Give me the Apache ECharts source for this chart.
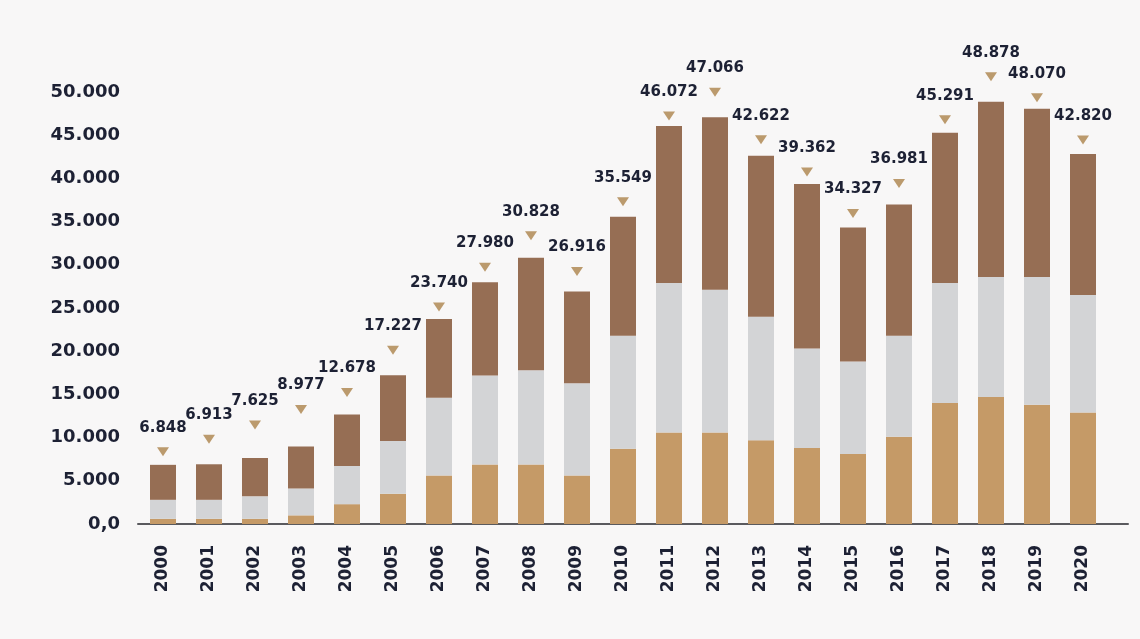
<!DOCTYPE html>
<html>
<head>
<meta charset="utf-8">
<style>
  html, body { margin: 0; padding: 0; background: #f8f7f7; }
  #chart { width: 1140px; height: 639px; }
</style>
<script src="https://cdn.jsdelivr.net/npm/echarts@6/dist/echarts.min.js"></script>
</head>
<body>
<div id="chart"></div>
<script>
// Years on the category axis
const years = ['2000','2001','2002','2003','2004','2005','2006','2007','2008','2009','2010',
               '2011','2012','2013','2014','2015','2016','2017','2018','2019','2020'];

// Stack segments, bottom to top
const baseSegment = [600, 600, 600, 1000, 2300, 3500, 5600, 6900, 6900, 5600, 8700,
                     10600, 10600, 9700, 8800, 8100, 10100, 14000, 14700, 13800, 12900];
const midSegment  = [2200, 2200, 2600, 3100, 4400, 6100, 9000, 10300, 10900, 10700, 13100,
                     17300, 16500, 14300, 11500, 10700, 11700, 13900, 13900, 14800, 13600];
const topSegment  = [4048, 4113, 4425, 4877, 5978, 7627, 9140, 10780, 13028, 10616, 13749,
                     18172, 19966, 18622, 19062, 15527, 15181, 17391, 20278, 19470, 16320];

// Yearly totals written above each bar
const totals = [6848, 6913, 7625, 8977, 12678, 17227, 23740, 27980, 30828, 26916, 35549,
                46072, 47066, 42622, 39362, 34327, 36981, 45291, 48878, 48070, 42820];

// Pixel lift of each marker above its bar
const markerLift = [13, 25, 33, 37, 22, 25, 12, 15, 22, 20, 15, 10, 25, 16, 12, 14, 21, 13, 25, 11, 14];

const fmt = v => v === 0 ? '0,0' : (v / 1000).toFixed(3);
const FONT = 'DejaVu Sans';
const TEXT = '#1d2134';

const chart = echarts.init(document.getElementById('chart'));
chart.setOption({
  backgroundColor: '#f8f7f7',
  animation: false,
  grid: [
    { left: 140, right: 34, top: 92, bottom: 115 },
    { left: 138, right: 12, top: 92, bottom: 115 }
  ],
  xAxis: [
    {
      type: 'category', data: years, gridIndex: 0,
      axisLine: { show: false }, axisTick: { show: false },
      axisLabel: { rotate: 90, margin: 21, color: TEXT, fontFamily: FONT, fontWeight: 'bold', fontSize: 17 }
    },
    {
      type: 'value', gridIndex: 1, min: 0, max: 1,
      axisLine: { show: true, lineStyle: { color: '#5a5a5e', width: 2 } },
      axisTick: { show: false }, axisLabel: { show: false }, splitLine: { show: false }
    }
  ],
  yAxis: [
    {
      type: 'value', gridIndex: 0, min: 0, max: 50000, interval: 5000,
      axisLine: { show: false }, axisTick: { show: false }, splitLine: { show: false },
      axisLabel: { formatter: fmt, margin: 20, color: TEXT, fontFamily: FONT, fontWeight: 'bold', fontSize: 18 }
    },
    { type: 'value', gridIndex: 1, show: false, min: 0, max: 1 }
  ],
  series: [
    { type: 'bar', stack: 'y', data: baseSegment, barWidth: 26, itemStyle: { color: '#c59a67' } },
    { type: 'bar', stack: 'y', data: midSegment,  barWidth: 26, itemStyle: { color: '#d3d4d6' } },
    { type: 'bar', stack: 'y', data: topSegment,  barWidth: 26, itemStyle: { color: '#966e54' } },
    {
      type: 'scatter', data: totals.map((v, i) => ({
        value: v,
        symbolOffset: [0, -markerLift[i]]
      })),
      symbol: 'triangle', symbolRotate: 180, symbolSize: [12, 9],
      itemStyle: { color: '#bb9a6d', opacity: 1 },
      label: {
        show: true, position: 'top', distance: 12,
        formatter: p => fmt(p.value),
        color: TEXT, fontFamily: FONT, fontWeight: 'bold', fontSize: 15
      },
      z: 5
    }
  ]
});
</script>
</body>
</html>
